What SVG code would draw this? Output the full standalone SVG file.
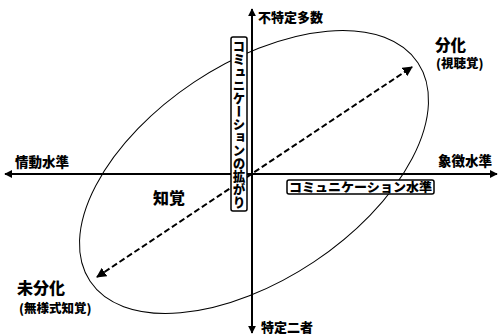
<svg xmlns="http://www.w3.org/2000/svg" width="499" height="336" viewBox="0 0 499 336">
<style>
.t{font-family:"Noto Sans CJK JP","Noto Sans CJK SC",sans-serif;font-weight:900;fill:#000}
.ax{stroke:#000;stroke-width:2;fill:none}
.box{fill:#fff;stroke:#000;stroke-width:1.5}
</style>
<defs>
<marker id="ah" viewBox="0 0 10 10" refX="9" refY="5" markerWidth="4" markerHeight="4" orient="auto-start-reverse" markerUnits="strokeWidth">
<path d="M0,0 L10,5 L0,10 Z" fill="#000"/>
</marker>
<marker id="dh" viewBox="0 0 10 10" refX="9" refY="5" markerWidth="5" markerHeight="5" orient="auto-start-reverse" markerUnits="strokeWidth">
<path d="M0,0 L10,5 L0,10 Z" fill="#000"/>
</marker>
</defs>
<g id="connectors">
<ellipse cx="254" cy="172" rx="197" ry="108" transform="rotate(-33.7 254 172)" fill="none" stroke="#000" stroke-width="1"/>
<line class="ax" x1="5" y1="174" x2="497" y2="174" marker-start="url(#ah)" marker-end="url(#ah)"/>
<line class="ax" x1="252" y1="333" x2="252" y2="9" marker-start="url(#ah)" marker-end="url(#ah)"/>
<line x1="97" y1="277" x2="412" y2="67" stroke="#000" stroke-width="2" stroke-dasharray="6,3" marker-start="url(#dh)" marker-end="url(#dh)"/>
</g>
<g id="vbox">
<rect class="box" x="231" y="37" width="16" height="174" rx="2"/>
<text class="t" x="239" y="39" font-size="12.5" style="writing-mode:vertical-rl" textLength="170" lengthAdjust="spacingAndGlyphs">コミュニケーションの拡がり</text>
</g>
<g id="hbox">
<rect class="box" x="287" y="180" width="147" height="14" rx="2"/>
<text class="t" x="289" y="191.5" font-size="12.5" textLength="143" lengthAdjust="spacingAndGlyphs">コミュニケーション水準</text>
</g>
<g id="top"><text class="t" x="258" y="22" font-size="13">不特定多数</text></g>
<g id="bottom"><text class="t" x="261" y="332" font-size="13">特定二者</text></g>
<g id="left"><text class="t" x="15" y="167" font-size="13.5">情動水準</text></g>
<g id="right"><text class="t" x="438" y="166" font-size="13.5">象徴水準</text></g>
<g id="bunka"><text class="t" x="435" y="51" font-size="15.5">分化</text>
<text class="t" x="436" y="68" font-size="12.5">(視聴覚)</text></g>
<g id="chikaku"><text class="t" x="153" y="204" font-size="16">知覚</text></g>
<g id="mibunka"><text class="t" x="17" y="294" font-size="16">未分化</text>
<text class="t" x="19" y="313" font-size="12.5">(無様式知覚)</text></g>
</svg>
